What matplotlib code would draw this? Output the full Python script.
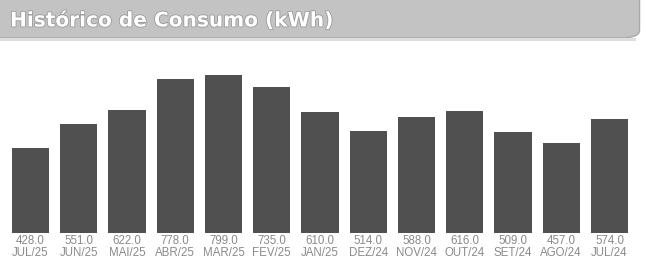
import matplotlib.pyplot as plt
import matplotlib.patheffects as pe
from matplotlib.patches import Rectangle, FancyBboxPatch

# dados do histórico
meses = ['JUL/25', 'JUN/25', 'MAI/25', 'ABR/25', 'MAR/25', 'FEV/25', 'JAN/25',
         'DEZ/24', 'NOV/24', 'OUT/24', 'SET/24', 'AGO/24', 'JUL/24']
consumo = [428.0, 551.0, 622.0, 778.0, 799.0, 735.0, 610.0,
           514.0, 588.0, 616.0, 509.0, 457.0, 574.0]

W, H = 646, 259
fig = plt.figure(figsize=(W / 100, H / 100), dpi=100)
fig.patch.set_facecolor('white')

# faixa do título
fig.patches.append(FancyBboxPatch((-0.05, 1 - 38 / H), 1.04, 60 / H,
                                  boxstyle='round,pad=0,rounding_size=0.03',
                                  transform=fig.transFigure, facecolor='#c3c3c3',
                                  edgecolor='#a8a8a8', linewidth=1.0, zorder=0))
fig.patches.append(Rectangle((0, 1 - 41 / H), 0.985, 3 / H, transform=fig.transFigure,
                             facecolor='#dedede', edgecolor='none', zorder=0))
fig.text(10 / W, 1 - 21 / H, 'Histórico de Consumo (kWh)', color='white',
         fontsize=14.5, fontweight='bold', va='center', ha='left',
         path_effects=[pe.withStroke(linewidth=1.2, foreground='#9a9a9a')])

ax = fig.add_axes([0, 0, 1, 1])
ax.set_facecolor('none')
x = list(range(len(meses)))
ax.bar(x, consumo, width=0.77, color='#505050', edgecolor='none')

base_px = 26
px_per_unit = 0.198
ax.set_ylim(-base_px / px_per_unit, (H - base_px) / px_per_unit)
sp = 48.25
ax.set_xlim(-30.5 / sp, (W - 30.5) / sp)
ax.axis('off')

for i, (m, v) in enumerate(zip(meses, consumo)):
    ax.annotate(f'{v:.1f}', (i, 0), xytext=(0, -8), textcoords='offset pixels',
                ha='center', va='center', fontsize=8.3, color='#8a8a8a',
                family='Liberation Sans')
    ax.annotate(m, (i, 0), xytext=(0, -20), textcoords='offset pixels',
                ha='center', va='center', fontsize=8.3, color='#8a8a8a',
                family='Liberation Sans')

fig.savefig('out.png', dpi=100)
